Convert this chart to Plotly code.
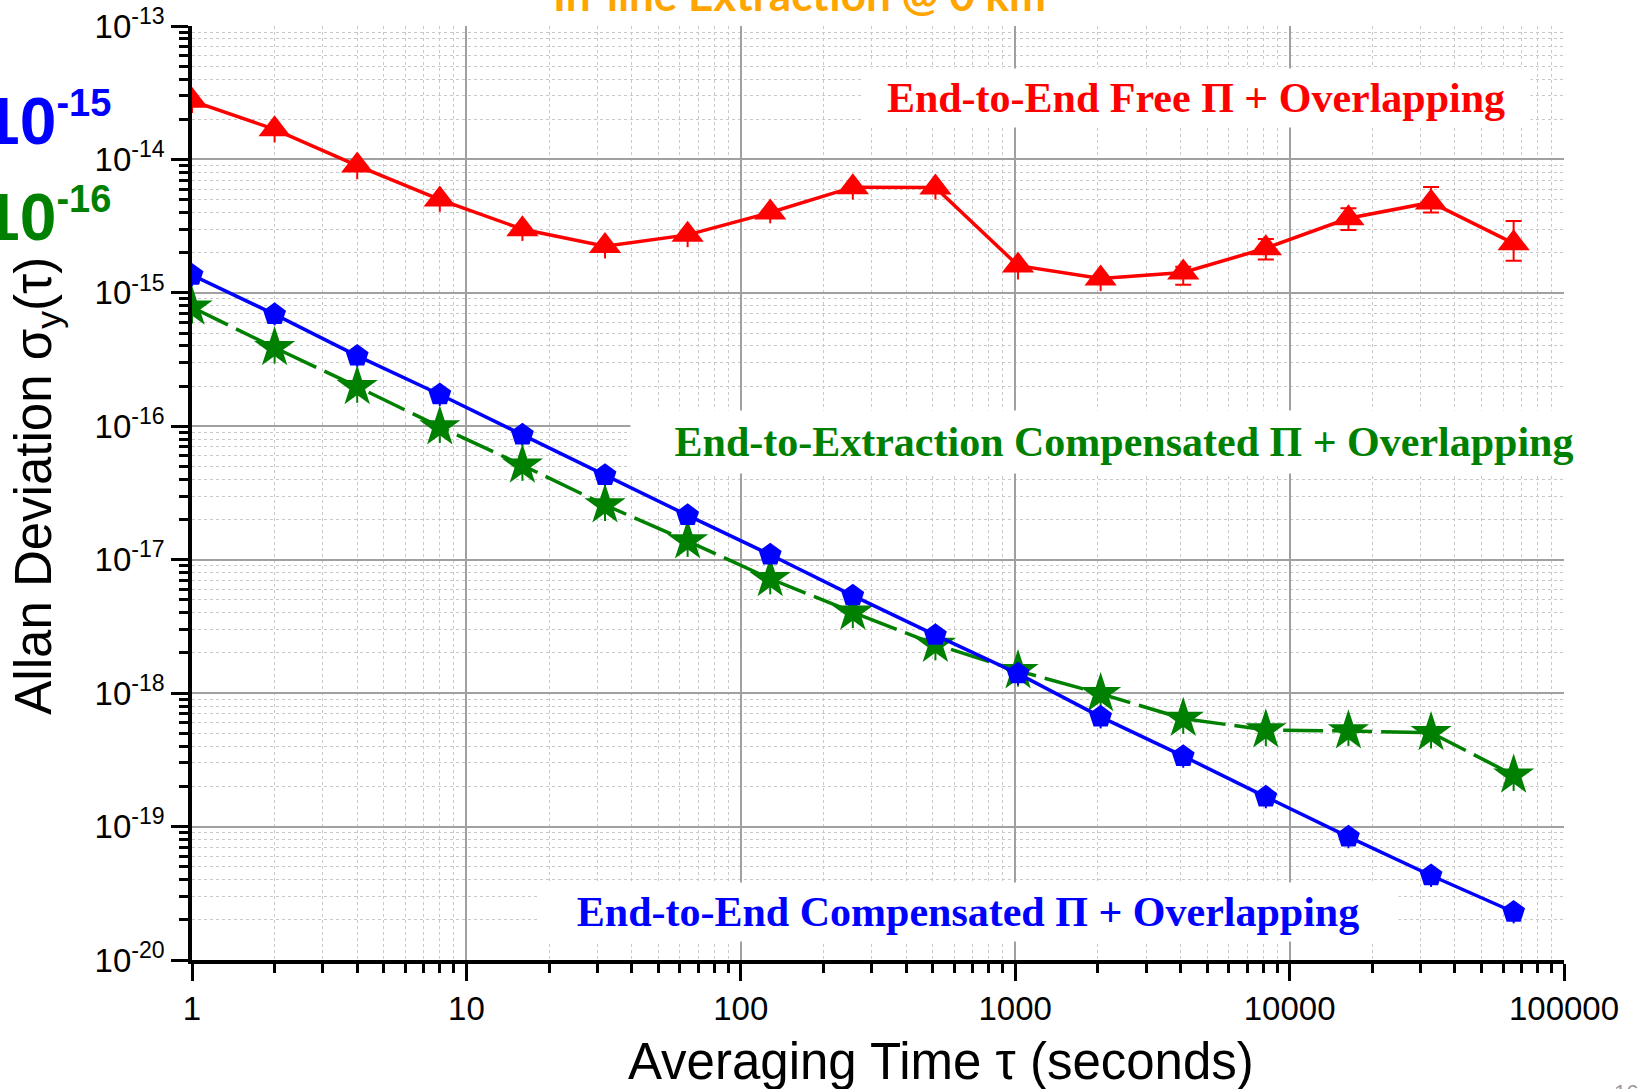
import plotly.graph_objects as go

# Averaging times (s)
tau = [1, 2, 4, 8, 16, 32, 64, 128, 256, 512, 1024, 2048, 4096, 8192, 16384, 32768, 65536]

# End-to-End Free (red)
free_adev = [2.75e-14, 1.68e-14, 9.0e-15, 5.0e-15, 3.0e-15, 2.24e-15, 2.72e-15, 4.0e-15, 6.2e-15,
             6.15e-15, 1.6e-15, 1.28e-15, 1.42e-15, 2.16e-15, 3.62e-15, 4.76e-15, 2.35e-15]
free_err_plus = [5.2e-15, 3.2e-15, 1.7e-15, 0.95e-15, 0.57e-15, 0.43e-15, 0.52e-15, 0.7e-15, 1.2e-15,
                 1.15e-15, 0.33e-15, 0.25e-15, 0.15e-15, 0.37e-15, 0.68e-15, 1.45e-15, 1.1e-15]
free_err_minus = [5.2e-15, 3.4e-15, 1.9e-15, 0.95e-15, 0.55e-15, 0.43e-15, 0.52e-15, 0.68e-15, 1.2e-15,
                  1.15e-15, 0.34e-15, 0.25e-15, 0.27e-15, 0.38e-15, 0.66e-15, 0.76e-15, 0.61e-15]

# End-to-End Compensated (blue)
e2e_adev = [1.36e-15, 6.9e-16, 3.37e-16, 1.73e-16, 8.63e-17, 4.3e-17, 2.15e-17, 1.09e-17, 5.38e-18,
            2.72e-18, 1.40e-18, 6.64e-19, 3.37e-19, 1.67e-19, 8.38e-20, 4.3e-20, 2.29e-20]
e2e_err = [2.4e-16, 1.2e-16, 6.0e-17, 3.1e-17, 1.5e-17, 7.7e-18, 3.9e-18, 2.0e-18, 9.7e-19,
           4.9e-19, 2.5e-19, 1.2e-19, 6.1e-20, 3.0e-20, 1.5e-20, 7.7e-21, 4.1e-21]

# End-to-Extraction Compensated (green)
ext_adev = [7.8e-16, 3.88e-16, 1.98e-16, 9.9e-17, 5.1e-17, 2.57e-17, 1.38e-17, 7.2e-18, 4.04e-18,
            2.32e-18, 1.47e-18, 9.9e-19, 6.45e-19, 5.3e-19, 5.2e-19, 5.05e-19, 2.43e-19]
ext_err = [1.9e-16, 9.3e-17, 4.8e-17, 2.4e-17, 1.2e-17, 6.2e-18, 3.3e-18, 1.7e-18, 9.7e-19,
           5.6e-19, 3.5e-19, 2.4e-19, 1.5e-19, 1.3e-19, 1.2e-19, 1.2e-19, 5.8e-20]

x_tickvals = [1, 10, 100, 1000, 10000, 100000]
x_ticktext = ["1", "10", "100", "1000", "10000", "100000"]
y_tickvals = [1e-20, 1e-19, 1e-18, 1e-17, 1e-16, 1e-15, 1e-14, 1e-13]
y_ticktext = ["10<sup>-20</sup>", "10<sup>-19</sup>", "10<sup>-18</sup>", "10<sup>-17</sup>",
              "10<sup>-16</sup>", "10<sup>-15</sup>", "10<sup>-14</sup>", "10<sup>-13</sup>"]

RED, BLUE, GREEN, ORANGE = "#ff0000", "#0000ff", "#008000", "#ffa500"
SANS = "Liberation Sans, Arial, sans-serif"
SERIF = "Liberation Serif, Times New Roman, serif"

fig = go.Figure()


def err_trace(x, y, plus, minus, color, cap):
    return go.Scatter(
        x=x, y=y, mode="markers", marker=dict(size=1, opacity=0), showlegend=False,
        hoverinfo="skip",
        error_y=dict(type="data", symmetric=False, array=plus, arrayminus=minus,
                     color=color, thickness=2, width=cap),
    )


# Error bars (drawn beneath the markers)
fig.add_trace(err_trace(tau, ext_adev, ext_err, ext_err, GREEN, 0))
fig.add_trace(err_trace(tau, e2e_adev, e2e_err, e2e_err, BLUE, 0))
n_nocap = 12
fig.add_trace(err_trace(tau[:n_nocap], free_adev[:n_nocap], free_err_plus[:n_nocap],
                        free_err_minus[:n_nocap], RED, 0))
fig.add_trace(err_trace(tau[n_nocap:], free_adev[n_nocap:], free_err_plus[n_nocap:],
                        free_err_minus[n_nocap:], RED, 8))

fig.add_trace(go.Scatter(
    x=tau, y=ext_adev, mode="lines+markers", showlegend=False,
    line=dict(color=GREEN, width=3.5, dash="40px,9px"),
    marker=dict(symbol="star", size=31, color=GREEN),
))
fig.add_trace(go.Scatter(
    x=tau, y=e2e_adev, mode="lines+markers", showlegend=False,
    line=dict(color=BLUE, width=3.5),
    marker=dict(symbol="pentagon", size=24, color=BLUE),
))
fig.add_trace(go.Scatter(
    x=tau, y=free_adev, mode="lines+markers", showlegend=False,
    line=dict(color=RED, width=3.5),
    marker=dict(symbol="triangle-up", size=28, color=RED),
))

axis_common = dict(
    type="log", automargin=False,
    showline=True, linecolor="black", linewidth=3.5,
    ticks="outside", ticklen=17, tickwidth=3, tickcolor="black",
    showgrid=True, gridcolor="#a0a0a0", gridwidth=1.5,
    zeroline=False, mirror=False,
    tickfont=dict(family=SANS, size=33, color="black"),
    minor=dict(dtick="D1", ticks="outside", ticklen=9, tickwidth=2.5, tickcolor="black",
               showgrid=True, gridcolor="#c8c8c8", gridwidth=1, griddash="dot"),
)

fig.update_xaxes(range=[0, 5], tickmode="array", tickvals=x_tickvals, ticktext=x_ticktext,
                 ticklabelstandoff=0, **axis_common)
fig.update_yaxes(range=[-20, -13], tickmode="array", tickvals=y_tickvals, ticktext=y_ticktext,
                 ticklabelstandoff=0, **axis_common)

annotations = [
    # series labels
    dict(text="<b>End-to-End Free Π + Overlapping</b>", x=0.7317, y=0.9229,
         font=dict(family=SERIF, size=42, color=RED), width=656, bgcolor="white", borderpad=6),
    dict(text="<b>End-to-Extraction Compensated Π + Overlapping</b>", x=0.6796, y=0.5546,
         font=dict(family=SERIF, size=42, color=GREEN), width=970, bgcolor="white", borderpad=8),
    dict(text="<b>End-to-End Compensated Π + Overlapping</b>", x=0.5656, y=0.0519,
         font=dict(family=SERIF, size=42, color=BLUE), width=848, bgcolor="white", borderpad=6),
    # axis titles
    dict(text="Averaging Time τ (seconds)", x=0.546, y=-0.109,
         font=dict(family=SANS, size=51, color="black")),
    dict(text="Allan Deviation σ<sub>y</sub>(τ)", x=-0.1125, y=0.5075, textangle=-90,
         font=dict(family=SANS, size=51, color="black")),
    # headline and side notes
    dict(text="<b>In-line Extraction @ 0 km</b>", x=0.443, y=1.0345,
         font=dict(family="Lato, Open Sans, sans-serif", size=44, color=ORANGE)),
    dict(text="<b>10<sup><span style='font-size:38px'>-15</span></sup></b>", x=-0.0579, y=0.8996,
         xanchor="right", font=dict(family=SANS, size=66, color=BLUE)),
    dict(text="<b>10<sup><span style='font-size:38px'>-16</span></sup></b>", x=-0.0579, y=0.797,
         xanchor="right", font=dict(family=SANS, size=66, color=GREEN)),
    dict(text="16", x=1.045, y=-0.142, xanchor="center",
         font=dict(family=SANS, size=22, color="#999999")),
]
for a in annotations:
    a.setdefault("xref", "paper")
    a.setdefault("yref", "paper")
    a.setdefault("showarrow", False)
    a.setdefault("xanchor", "center")
    a.setdefault("yanchor", "middle")

fig.update_layout(
    width=1640, height=1089,
    margin=dict(l=192, r=76, t=26, b=129),
    paper_bgcolor="white", plot_bgcolor="white",
    annotations=annotations,
    showlegend=False,
)

fig.write_html("out.html")
